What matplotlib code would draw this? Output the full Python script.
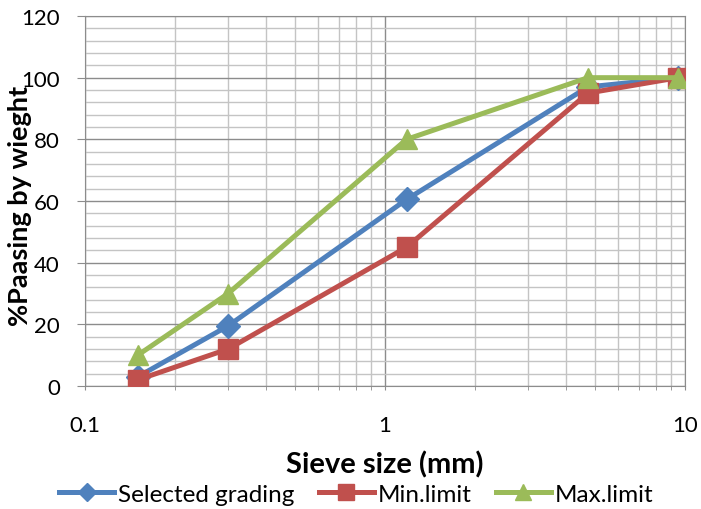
import numpy as np
import matplotlib.pyplot as plt
from matplotlib.ticker import MultipleLocator, LogLocator, FixedLocator

# sieve sizes (mm) and % passing
sieve = [0.15, 0.3, 1.18, 4.75, 9.5]
selected = [3, 19.5, 60.5, 97, 100]
min_limit = [2, 12, 45, 95, 100]
max_limit = [10, 30, 80, 100, 100]

plt.rcParams['font.family'] = ['Lato', 'DejaVu Sans']

fig = plt.figure(figsize=(7.01, 5.10), dpi=100)
ax = fig.add_axes([85 / 701, 123 / 510, 600 / 701, 370 / 510])

ax.plot(sieve, selected, color='#4F81BD', lw=3.6, marker='D', ms=12, label='Selected grading', zorder=3)
ax.plot(sieve, min_limit, color='#C0504D', lw=3.6, marker='s', ms=14, label='Min.limit', zorder=4)
ax.plot(sieve, max_limit, color='#9BBB59', lw=3.6, marker='^', ms=14, label='Max.limit', zorder=5)

ax.set_xscale('log')
ax.set_xlim(0.1, 10)
ax.set_ylim(0, 120)
ax.xaxis.set_major_locator(FixedLocator([0.1, 1, 10]))
ax.xaxis.set_minor_locator(LogLocator(base=10, subs=np.arange(2, 10)))
ax.xaxis.set_minor_formatter(plt.NullFormatter())
ax.set_xticklabels(['0.1', '1', '10'])
ax.yaxis.set_major_locator(MultipleLocator(20))
ax.yaxis.set_minor_locator(MultipleLocator(4))

ax.grid(which='major', color='#8c8c8c', lw=1)
ax.grid(which='minor', color='#c4c4c4', lw=1)
ax.set_axisbelow(True)
for s in ax.spines.values():
    s.set_color('#8c8c8c')

ax.tick_params(axis='y', which='major', direction='out', length=6, color='#8c8c8c', labelsize=16, pad=12)
ax.tick_params(axis='y', which='minor', length=0)
ax.tick_params(axis='x', which='both', direction='out', length=3, color='#8c8c8c', labelsize=16, pad=18)

ax.set_xlabel('Sieve size (mm)', fontsize=21, fontweight='bold', va='center')
ax.xaxis.set_label_coords(0.5, -0.211)
ax.set_ylabel('%Paasing by wieght', fontsize=19.5, fontweight='bold')
ax.yaxis.set_label_coords(-0.088, 0.49)

ax.legend(loc='center', bbox_to_anchor=(0.452, -0.292), ncol=3, frameon=False,
          fontsize=17.5, handlelength=2.26, columnspacing=1.0, handletextpad=0.16,
          markerscale=0.8, borderaxespad=0)

fig.savefig('out.png', dpi=100)
